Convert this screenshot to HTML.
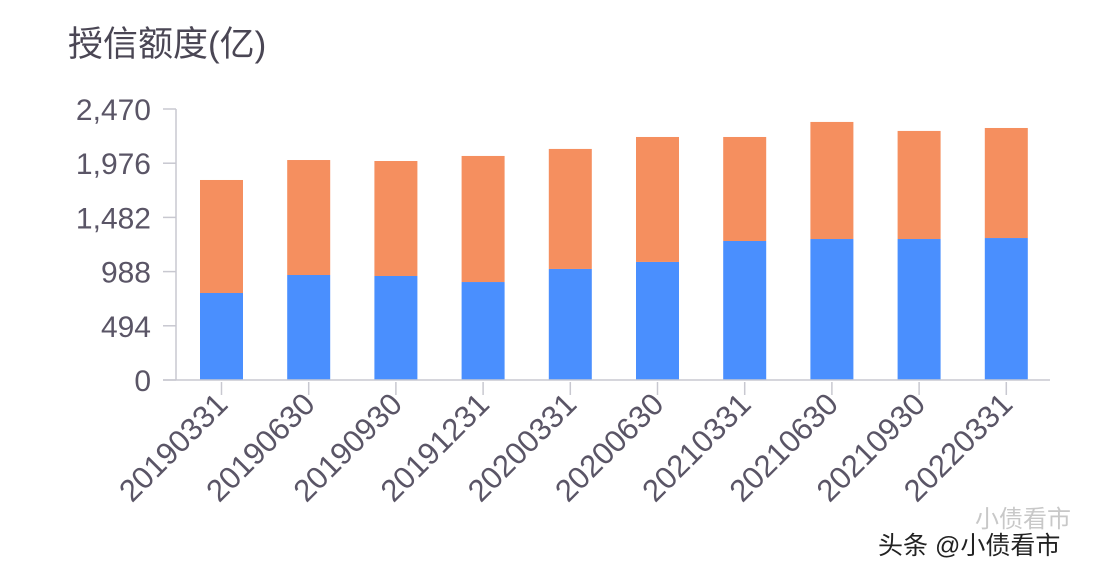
<!DOCTYPE html>
<html><head><meta charset="utf-8"><style>
body{margin:0;background:#fff;width:1108px;height:576px;overflow:hidden;font-family:"Liberation Sans","Noto Sans CJK SC",sans-serif}
</style></head><body>
<svg width="1108" height="576" xmlns="http://www.w3.org/2000/svg">
<text x="68" y="56" font-size="35" fill="#4a4654" font-family="Liberation Sans,Noto Sans CJK SC,sans-serif">授信额度(亿)</text>
<g id="plot"></g>
<text x="975" y="527" font-size="24" fill="#c8c8c8" font-family="Liberation Sans,Noto Sans CJK SC,sans-serif">小债看市</text>
<text x="878" y="554" font-size="25" fill="#222" font-family="Liberation Sans,Noto Sans CJK SC,sans-serif">头条 @小债看市</text>
</svg>
<script>
const categories=["20190331","20190630","20190930","20191231","20200331","20200630","20210331","20210630","20210930","20220331"];
const blueValues=[793,957,948,893,1012,1076,1267,1285,1285,1294];
const orangeValues=[1030,1048,1048,1149,1094,1139,948,1067,985,1003];
const yTicks=[0,494,988,1482,1976,2470];
const yTickLabels=["0","494","988","1,482","1,976","2,470"];
const NS="http://www.w3.org/2000/svg";
const g=document.getElementById('plot');
const y0=380,yTop=109,yMax=2470,x0=176,step=87.2,bw=43,firstX=221.5;
const y=v=>y0-(v/yMax)*(y0-yTop);
const x=i=>firstX+i*step;
function mk(t,a){const e=document.createElementNS(NS,t);for(const k in a)e.setAttribute(k,a[k]);g.appendChild(e);return e;}
let ax=mk('line',{x1:x0,y1:yTop,x2:x0,y2:y0,stroke:'#c8c8d0','stroke-width':1.5});


yTicks.forEach((v,i)=>{
 const t=mk('line',{x1:163,x2:x0,y1:y(v),y2:y(v),stroke:'#c8c8d0','stroke-width':1.5});
 
 
 const l=mk('text',{x:151,y:y(v)+11,'text-anchor':'end','font-size':30,fill:'#5a5566'});
 l.textContent=yTickLabels[i];
 
 
});
categories.forEach((c,i)=>{
 const cx=x(i);
 const b=mk('rect',{x:cx-bw/2,y:y(blueValues[i]),width:bw,height:y0-y(blueValues[i]),fill:'#4a8ffe'});
 
 
 const tot=blueValues[i]+orangeValues[i];
 const o=mk('rect',{x:cx-bw/2,y:y(tot),width:bw,height:y(blueValues[i])-y(tot),fill:'#f58f5f'});
 
 
 const tk=mk('line',{x1:cx,x2:cx,y1:y0+2,y2:y0+15,stroke:'#c8c8d0','stroke-width':1.5});
 
 
 const l=mk('text',{x:cx+8,y:y0+26,'text-anchor':'end','font-size':31,fill:'#5a5566',transform:`rotate(-45 ${cx+8} ${y0+26})`});
 l.textContent=c;
 
 
});
let bx=mk('line',{x1:163,y1:y0,x2:1050,y2:y0,stroke:'#c8c8d0','stroke-width':1.5});


</script>
</body></html>
